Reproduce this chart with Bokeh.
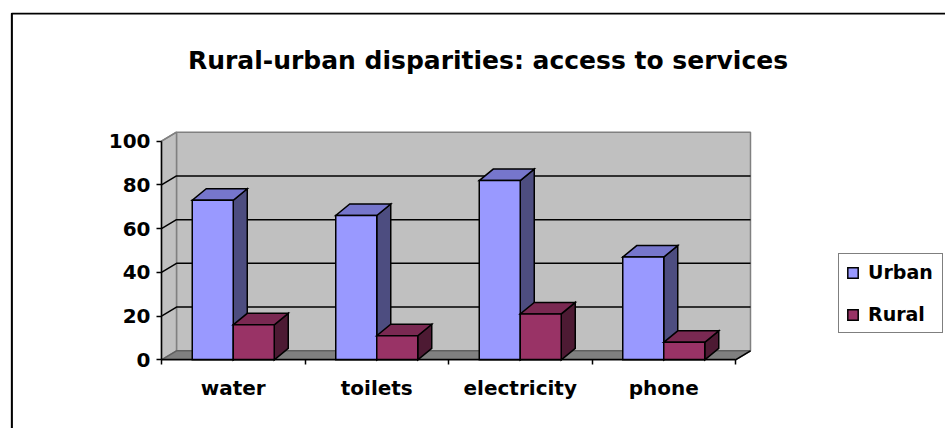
from bokeh.plotting import figure
from bokeh.models import (Range1d, FixedTicker, BoxAnnotation, Legend,
                          LegendItem, Label)
from bokeh.embed import file_html
from bokeh.resources import INLINE

# ---- data ----
categories = ["water", "toilets", "electricity", "phone"]
urban = [73, 66, 82, 47]
rural = [16, 11, 21, 8]
y_ticks = [0, 20, 40, 60, 80, 100]
series_names = ["Urban", "Rural"]
title_text = "Rural-urban disparities: access to services"

# ---- layout / style constants (pixels) ----
W, H = 945, 428
FRAME_L, FRAME_T = 10, 12          # frame covers the whole chart area
ORIGIN_X, ORIGIN_Y = 161, 359.3    # pixel position of (0, 0)
PX_PER_CAT, PX_PER_VAL = 143.5, 2.186

FONT = "DejaVu Sans"
BAR_W = 0.2857
WALL_DX, WALL_DY = 0.1045, 4.12
BAR_DX, BAR_DY = 0.0976, 5.26
N = len(categories)
YMAX = y_ticks[-1]

urban_cols = ("#9999FF", "#7676CC", "#4D4D80")
rural_cols = ("#993366", "#7A2952", "#4D1A33")

frame_w, frame_h = W - FRAME_L, H - FRAME_T
x0 = -(ORIGIN_X - FRAME_L) / PX_PER_CAT
y0 = -(H - ORIGIN_Y) / PX_PER_VAL

p = figure(width=W, height=H, output_backend="svg", toolbar_location=None,
           x_range=Range1d(x0, x0 + frame_w / PX_PER_CAT),
           y_range=Range1d(y0, y0 + frame_h / PX_PER_VAL),
           min_border_left=FRAME_L, min_border_right=0, min_border_top=FRAME_T,
           min_border_bottom=0)
p.outline_line_color = None
p.grid.visible = False
p.background_fill_color = "white"
p.border_fill_color = "white"

# ---- walls and floor ----
p.patch([WALL_DX, N + WALL_DX, N + WALL_DX, WALL_DX],
        [WALL_DY, WALL_DY, YMAX + WALL_DY, YMAX + WALL_DY],
        fill_color="#C0C0C0", line_color="#808080", line_width=1.5)
p.patch([0, WALL_DX, WALL_DX, 0], [0, WALL_DY, YMAX + WALL_DY, YMAX],
        fill_color="#C0C0C0", line_color="#808080", line_width=1.5)
p.patch([0, N, N + WALL_DX, WALL_DX], [0, 0, WALL_DY, WALL_DY],
        fill_color="#808080", line_color="#606060", line_width=1.5)

# gridlines (side wall + back wall)
grid_vals = y_ticks[1:-1]
xs = [[0, WALL_DX, N + WALL_DX] for v in grid_vals]
ys = [[v, v + WALL_DY, v + WALL_DY] for v in grid_vals]
p.multi_line(xs, ys, line_color="black", line_width=1.5)
p.line([0, WALL_DX], [YMAX, YMAX + WALL_DY], line_color="#808080", line_width=1.5)
p.line([N, N + WALL_DX], [0, WALL_DY], line_color="black", line_width=1.5)


def draw_series(vals, lefts, cols):
    rights = [l + BAR_W for l in lefts]
    side_xs = [[r, r + BAR_DX, r + BAR_DX, r] for r in rights]
    side_ys = [[0, BAR_DY, v + BAR_DY, v] for v in vals]
    top_xs = [[l, r, r + BAR_DX, l + BAR_DX] for l, r in zip(lefts, rights)]
    top_ys = [[v, v, v + BAR_DY, v + BAR_DY] for v in vals]
    p.patches(side_xs, side_ys, fill_color=cols[2], line_color="black",
              line_width=1.5, line_join="miter")
    p.patches(top_xs, top_ys, fill_color=cols[1], line_color="black",
              line_width=1.5, line_join="miter")
    return p.quad(left=lefts, right=rights, bottom=[0] * len(vals), top=vals,
                  fill_color=cols[0], line_color="black", line_width=1.5,
                  line_join="miter")


urban_left = [i + 0.5 - BAR_W for i in range(N)]
rural_left = [i + 0.5 for i in range(N)]
r_urban = draw_series(urban, urban_left, urban_cols)
r_rural = draw_series(rural, rural_left, rural_cols)

# ---- axes (fixed at the data origin) ----
xa = p.xaxis[0]
xa.fixed_location = 0
xa.ticker = FixedTicker(ticks=[i + 0.5 for i in range(N)],
                        minor_ticks=list(range(N + 1)))
xa.major_label_overrides = {i + 0.5: c for i, c in enumerate(categories)}
xa.bounds = (0, N)
xa.axis_line_color = "black"
xa.axis_line_width = 1.5
xa.major_tick_line_color = None
xa.major_tick_out = 0
xa.major_tick_in = 0
xa.minor_tick_line_color = "black"
xa.minor_tick_line_width = 1.5
xa.minor_tick_out = 5
xa.minor_tick_in = 0
xa.major_label_standoff = 11
xa.major_label_text_font = FONT
xa.major_label_text_font_style = "bold"
xa.major_label_text_font_size = "20px"
xa.major_label_text_color = "black"

ya = p.yaxis[0]
ya.fixed_location = 0
ya.ticker = FixedTicker(ticks=y_ticks, minor_ticks=[])
ya.bounds = (0, YMAX)
ya.axis_line_color = "black"
ya.axis_line_width = 1.5
ya.major_tick_line_color = "black"
ya.major_tick_line_width = 1.5
ya.major_tick_out = 5
ya.major_tick_in = 0
ya.minor_tick_line_color = None
ya.major_label_standoff = 6
ya.major_label_text_font = FONT
ya.major_label_text_font_style = "bold"
ya.major_label_text_font_size = "20px"
ya.major_label_text_color = "black"

# ---- legend ----
legend = Legend(items=[LegendItem(label=series_names[0], renderers=[r_urban]),
                       LegendItem(label=series_names[1], renderers=[r_rural])],
                location=(838 - FRAME_L, H - 333), orientation="vertical")
legend.label_text_font = FONT
legend.label_text_font_style = "bold"
legend.label_text_font_size = "19px"
legend.label_text_color = "black"
legend.label_width = 67
legend.glyph_width = 13
legend.glyph_height = 13
legend.label_standoff = 9
legend.spacing = 20
legend.padding = 7
legend.margin = 0
legend.border_line_color = "black"
legend.border_line_width = 1.8
legend.background_fill_color = "white"
legend.background_fill_alpha = 1
p.add_layout(legend)

# ---- title ----
title = Label(x=487.5 - FRAME_L, y=H - 60, x_units="screen", y_units="screen",
              text=title_text, text_align="center", text_baseline="alphabetic",
              text_font=FONT, text_font_style="bold", text_font_size="25px",
              text_color="black")
p.add_layout(title)

# ---- chart-area border ----
border = BoxAnnotation(left=11.3 - FRAME_L, right=W + 50, top=H - 13,
                       bottom=-50, left_units="screen", right_units="screen",
                       top_units="screen", bottom_units="screen",
                       fill_color=None, fill_alpha=0, line_color="black",
                       line_width=2.2, line_alpha=1)
p.add_layout(border)

open("out.html", "w").write(file_html(p, INLINE))
